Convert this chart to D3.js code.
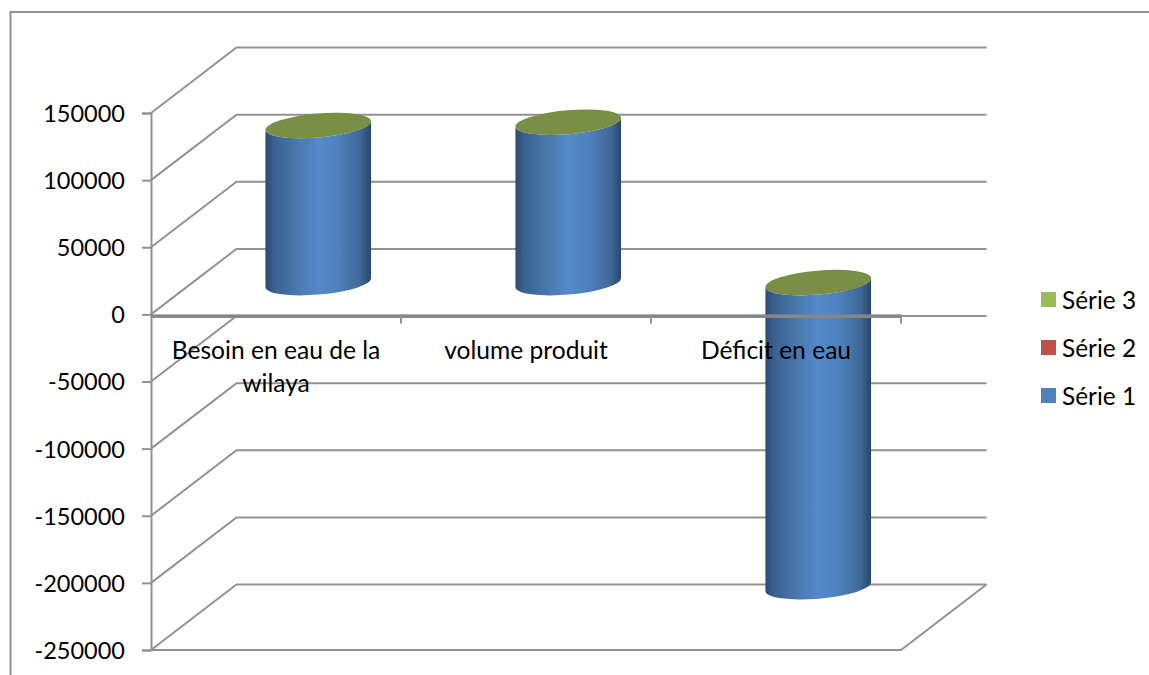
<!DOCTYPE html>
<html>
<head>
<meta charset="utf-8">
<script src="https://cdn.jsdelivr.net/npm/d3@7/dist/d3.min.js"></script>
<style>
  html, body { margin: 0; padding: 0; background: #fff; }
  svg { display: block; font-family: Lato, "Open Sans", sans-serif; }
  text { fill: #000; }
</style>
</head>
<body>
<svg id="chart" width="1149" height="675"></svg>
<script>
// Chart values
const categories = ["Besoin en eau de la wilaya", "volume produit", "Déficit en eau"];
const serie1 = [117000, 119500, -226500];
const serie2 = [0, 0, 0];
const serie3 = [0, 0, 0];
const yTicks = [150000, 100000, 50000, 0, -50000, -100000, -150000, -200000, -250000];
const legendLabels = ["Série 3", "Série 2", "Série 1"];
const legendColors = ["#9bbb59", "#c0504d", "#4f81bd"];

// Oblique projection of the 3D box: depth runs up and to the right
const depthX = 85.5, depthY = -65.5;
const gridColor = "#929292";
const lineWidth = 2;

const svg = d3.select("#chart");
const y = d3.scaleLinear().domain([-250000, 150000]).range([650, 113]);
const x = d3.scaleBand().domain(categories).range([151, 901]);

// Outer frame of the chart area (open on the right and bottom)
svg.append("path")
  .attr("d", "M10.5,675V12H1149")
  .attr("fill", "none").attr("stroke", "#929292").attr("stroke-width", lineWidth);

// Back-wall gridlines and the side-wall diagonals
const walls = svg.append("g").attr("fill", "none").attr("stroke", gridColor).attr("stroke-width", lineWidth);
yTicks.forEach(t => {
  const fy = y(t);
  walls.append("path").attr("d", d3.line()([
    [x.range()[0], fy],
    [x.range()[0] + depthX, fy + depthY],
    [x.range()[1] + depthX, fy + depthY]
  ]));
});
// Floor edges at the axis minimum
walls.append("path").attr("d", d3.line()([
  [x.range()[0], y(-250000)],
  [x.range()[1], y(-250000)],
  [x.range()[1] + depthX, y(-250000) + depthY]
]));

// Value axis
const yAxis = d3.axisLeft(y).tickValues(yTicks).tickSize(9).tickPadding(17).tickFormat(d3.format("d"));
const yG = svg.append("g").attr("transform", "translate(151,0)").call(yAxis);
yG.selectAll("path, line").attr("stroke", gridColor).attr("stroke-width", lineWidth);
yG.selectAll("text").attr("font-size", 23.5).attr("font-family", "Lato, 'Open Sans', sans-serif").attr("dy", "0.36em")
  .text(d => d3.format("d")(d).replace("−", "-"));

// Cylinder shading, dark at both sides
const defs = svg.append("defs");
const grad = defs.append("linearGradient").attr("id", "cyl").attr("x1", 0).attr("x2", 1).attr("y1", 0).attr("y2", 0);
[[0, "#2c4a70"], [0.08, "#39608f"], [0.3, "#4a78ad"], [0.5, "#5589cb"], [0.7, "#4f80bc"], [0.9, "#3e6896"], [1, "#2b4767"]]
  .forEach(([o, c]) => grad.append("stop").attr("offset", o).attr("stop-color", c));

// Cylinders stand at mid-depth of the box
const rx = 53, ry = 12, tilt = -4.9;
const cx = c => x(c) + x.bandwidth() / 2 + depthX / 2 - 0.5;
const cy = v => y(v) + depthY / 2 + 1;
const ex = rx * Math.cos(tilt * Math.PI / 180);
const ey = rx * Math.sin(tilt * Math.PI / 180);
const arc = (tx, ty, sweep) => `A${rx},${ry} ${tilt} 0 ${sweep} ${tx},${ty}`;

const bars = svg.append("g").selectAll("g").data(categories).join("g");
bars.append("path")
  .attr("fill", "url(#cyl)")
  .attr("d", (c, i) => {
    const xc = cx(c), top = cy(Math.max(serie1[i], 0)), bottom = cy(Math.min(serie1[i], 0));
    return `M${xc - ex},${top - ey}L${xc - ex},${bottom - ey}` +
      arc(xc + ex, bottom + ey, 0) +
      `L${xc + ex},${top + ey}` + arc(xc - ex, top - ey, 1) + "Z";
  });
bars.append("ellipse")
  .attr("fill", "#788f45")
  .attr("rx", rx).attr("ry", ry)
  .attr("transform", (c, i) => `translate(${cx(c)},${cy(Math.max(serie1[i], 0))}) rotate(${tilt})`);

// Zero plane: a thin slab in front of the cylinders, with category ticks below it
svg.append("rect")
  .attr("x", x.range()[0]).attr("y", y(0)).attr("width", x.range()[1] - x.range()[0]).attr("height", 3.6)
  .attr("fill", "#878787");
svg.append("g").selectAll("line").data(categories).join("line")
  .attr("x1", c => x(c) + x.bandwidth()).attr("x2", c => x(c) + x.bandwidth())
  .attr("y1", y(0)).attr("y2", y(0) + 9)
  .attr("stroke", gridColor).attr("stroke-width", lineWidth);

// Category labels, wrapped to the band width
const catLines = {"Besoin en eau de la wilaya": ["Besoin en eau de la", "wilaya"]};
const labels = svg.append("g").attr("font-size", 24.6).attr("text-anchor", "middle");
categories.forEach(c => {
  const lines = catLines[c] || [c];
  lines.forEach((l, i) => {
    labels.append("text").attr("x", x(c) + x.bandwidth() / 2).attr("y", 358.5 + i * 33).text(l);
  });
});

// Legend
const legend = svg.append("g").selectAll("g").data(legendLabels).join("g")
  .attr("transform", (d, i) => `translate(1041,${292 + i * 48})`);
legend.append("rect").attr("width", 15).attr("height", 15).attr("fill", (d, i) => legendColors[i]);
legend.append("text").attr("x", 21).attr("y", 16.5).attr("font-size", 24.4).text(d => d);
</script>
</body>
</html>
